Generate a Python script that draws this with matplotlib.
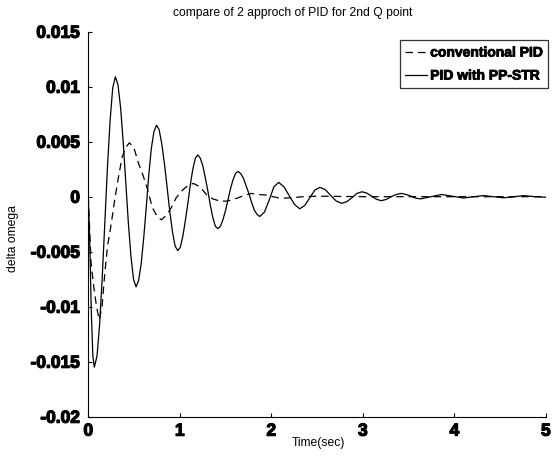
import numpy as np
import matplotlib
matplotlib.use("Agg")
import matplotlib.pyplot as plt
import matplotlib.patheffects as pe

# conventional PID (dashed)
t_pid = [0.00, 0.03, 0.06, 0.09, 0.12, 0.15, 0.18, 0.21, 0.25, 0.29,
         0.33, 0.37, 0.41, 0.45, 0.50, 0.55, 0.60, 0.65, 0.70, 0.76,
         0.80, 0.85, 0.90, 0.96, 1.03, 1.10, 1.15, 1.22, 1.29, 1.36,
         1.44, 1.52, 1.62, 1.70, 1.78, 1.86, 1.95, 2.02, 2.10, 2.20,
         2.35, 2.50, 3.00, 3.50, 4.00, 4.50, 5.00]
y_pid = [0.0, -0.0060, -0.0082, -0.0100, -0.0112, -0.0100, -0.0070, -0.0045, -0.0025, -0.0002,
         0.0018, 0.0036, 0.0045, 0.0049, 0.0044, 0.0030, 0.0019, 0.0006, -0.0010, -0.0019,
         -0.0021, -0.0017, -0.0011, -0.0001, 0.0006, 0.0011, 0.0012, 0.0009, 0.0002, -0.0002,
         -0.0004, -0.0004, -0.00015, 0.0001, 0.0003, 0.0002, 0.00015, 0.0, -0.00015, -0.0001,
         0.0, 0.00005, 0.0, 0.0, 0.0, 0.0, 0.0]

# PID with PP-STR (solid)
t_str = [0.000, 0.017, 0.033, 0.050, 0.066, 0.095, 0.124, 0.152, 0.181, 0.210,
         0.239, 0.267, 0.296, 0.324, 0.353, 0.381, 0.409, 0.437, 0.466, 0.494,
         0.522, 0.550, 0.578, 0.606, 0.634, 0.661, 0.689, 0.717, 0.745, 0.774,
         0.803, 0.832, 0.862, 0.891, 0.920, 0.949, 0.978, 1.005, 1.033, 1.060,
         1.088, 1.115, 1.142, 1.170, 1.197, 1.224, 1.252, 1.279, 1.307, 1.334,
         1.361, 1.389, 1.416, 1.443, 1.471, 1.498, 1.526, 1.553, 1.580, 1.608,
         1.635, 1.665, 1.694, 1.724, 1.754, 1.784, 1.813, 1.843, 1.873, 1.925,
         1.977, 2.028, 2.080, 2.138, 2.195, 2.253, 2.310, 2.365, 2.420, 2.475,
         2.530, 2.590, 2.650, 2.710, 2.770, 2.825, 2.880, 2.935, 2.990, 3.043,
         3.095, 3.148, 3.200, 3.255, 3.310, 3.365, 3.420, 3.473, 3.525, 3.578,
         3.630, 3.745, 3.860, 3.980, 4.100, 4.210, 4.320, 4.430, 4.540, 4.650,
         4.760, 4.880, 5.000]
y_str = [0.0, -0.0045, -0.0105, -0.0145, -0.0155, -0.0145, -0.0116, -0.0074, -0.0023, 0.0028,
         0.0070, 0.0099, 0.0109, 0.0102, 0.0081, 0.0050, 0.0014, -0.0023, -0.0054, -0.0075,
         -0.0082, -0.0076, -0.0061, -0.0037, -0.0009, 0.0020, 0.0044, 0.0059, 0.0065, 0.0061,
         0.0048, 0.0030, 0.0008, -0.0014, -0.0032, -0.0045, -0.0049, -0.0046, -0.0036, -0.0022,
         -0.0006, 0.0011, 0.0025, 0.0035, 0.0038, 0.0035, 0.0028, 0.0017, 0.0005, -0.0008,
         -0.0019, -0.0027, -0.0029, -0.0027, -0.0021, -0.0013, -0.0003, 0.0007, 0.0015, 0.0021,
         0.0023, 0.0021, 0.0017, 0.0010, 0.0003, -0.0005, -0.0012, -0.0016, -0.0018, -0.0014,
         -0.0003, 0.0009, 0.0013, 0.0009, 0.0001, -0.0007, -0.0011, -0.0008, -0.0001, 0.0006,
         0.00085, 0.00064, 0.0001, -0.0004, -0.0006, -0.00045, -0.0001, 0.0003, 0.00045, 0.00033,
         0.00005, -0.00023, -0.00036, -0.00025, 0.0, 0.0002, 0.0003, 0.0002, 0.00005, -0.00013,
         -0.0002, 0.0, 0.0002, 0.00004, -0.00012, 0.0, 0.0001, 0.0, -0.0001, 0.0,
         0.0001, 0.0, -0.00005]

xticks = [0, 1, 2, 3, 4, 5]
yticks = [-0.02, -0.015, -0.01, -0.005, 0, 0.005, 0.01, 0.015]
ytick_labels = ["-0.02", "-0.015", "-0.01", "-0.005", "0", "0.005", "0.01", "0.015"]

plt.rcParams['font.family'] = ['Liberation Sans', 'DejaVu Sans']

fig = plt.figure(figsize=(5.56, 4.57), dpi=100)
ax = fig.add_axes([0.1588, 0.0882, 0.823, 0.8424])

ax.plot(t_pid, y_pid, color="k", linestyle=(0, (6, 4)), linewidth=0.9, label="conventional PID")
ax.plot(t_str, y_str, color="k", linewidth=0.9, label="PID with PP-STR")

ax.set_xlim(0, 5)
ax.set_ylim(-0.02, 0.015)
ax.set_xticks(xticks)
ax.set_xticklabels([str(x) for x in xticks])
ax.set_yticks(yticks)
ax.set_yticklabels(ytick_labels)
heavy = [pe.withStroke(linewidth=0.9, foreground="k")]
for lab in ax.get_xticklabels() + ax.get_yticklabels():
    lab.set_fontsize(12.5)
    lab.set_fontweight("bold")
    lab.set_path_effects(heavy)
ax.tick_params(axis="y", direction="in", length=3, width=0.8, pad=6)
ax.tick_params(axis="x", direction="in", length=3, width=0.8, pad=5)
ax.spines["top"].set_visible(False)
ax.spines["right"].set_visible(False)

fig.text(293 / 556, 1 - 13 / 457, "compare of 2 approch of PID for 2nd Q point",
         fontsize=8.7, ha="center", va="center")
fig.text(318 / 556, 1 - 443 / 457, "Time(sec)", fontsize=8.7, ha="center", va="center")
fig.text(13 / 556, 1 - 238 / 457, "delta omega", fontsize=8.7, rotation=90,
         ha="center", va="center")

leg = ax.legend(loc="upper right", bbox_to_anchor=(548 / 556, 1 - 40 / 457),
                bbox_transform=fig.transFigure, frameon=True, fancybox=False,
                prop={"weight": "bold", "size": 10}, handlelength=1.6,
                borderpad=0.4, labelspacing=0.65, handletextpad=0.2, borderaxespad=0)
leg.get_frame().set_edgecolor("k")
leg.get_frame().set_linewidth(0.9)
for txt in leg.get_texts():
    txt.set_path_effects([pe.withStroke(linewidth=0.6, foreground="k")])

fig.savefig("out.png", dpi=100)
